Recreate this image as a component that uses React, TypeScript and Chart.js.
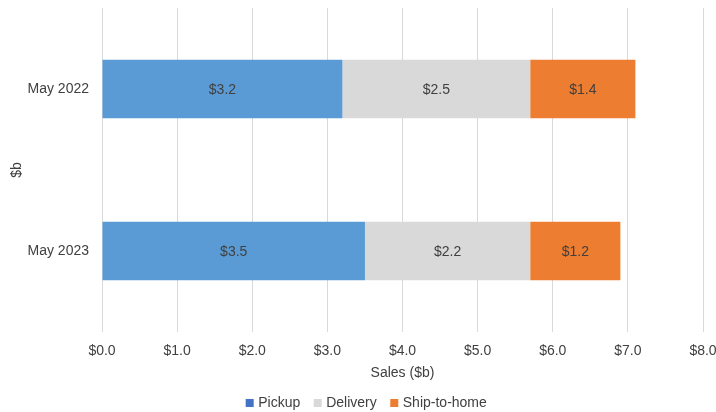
import React, { useEffect, useRef } from "react";
import { Chart, registerables } from "chart.js";

Chart.register(...registerables);

const categories = ["May 2022", "May 2023"];
const pickup = [3.2, 3.5];
const delivery = [2.5, 2.2];
const shipToHome = [1.4, 1.2];
const xTicks = [0, 1, 2, 3, 4, 5, 6, 7, 8];

const FONT = "'Liberation Sans', Arial, Helvetica, sans-serif";
const TEXT = "#404040";
const SIZE = 14;

const barLabels = {
  id: "barLabels",
  afterDatasetsDraw(chart: any) {
    const ctx = chart.ctx;
    ctx.save();
    ctx.font = `${SIZE}px ${FONT}`;
    ctx.fillStyle = TEXT;
    ctx.textAlign = "center";
    ctx.textBaseline = "middle";
    chart.data.datasets.forEach((ds: any, i: number) => {
      const meta = chart.getDatasetMeta(i);
      meta.data.forEach((el: any, j: number) => {
        const p = el.getCenterPoint();
        ctx.fillText("$" + Number(ds.data[j]).toFixed(1), p.x, p.y + 1);
      });
    });
    ctx.restore();
  },
};

const legendShift = {
  id: "legendShift",
  afterLayout(chart: any) {
    if (chart.legend) {
      chart.legend.left += 16;
      chart.legend.right += 16;
    }
  },
};

export default function App() {
  const ref = useRef<HTMLCanvasElement>(null);
  useEffect(() => {
    if (!ref.current) return;
    const legendColors = ["#4472C4", "#D9D9D9", "#ED7D31"];
    const chart = new Chart(ref.current, {
      type: "bar",
      data: {
        labels: categories,
        datasets: [
          { label: "Pickup", data: pickup, backgroundColor: "#5B9BD5" },
          { label: "Delivery", data: delivery, backgroundColor: "#D9D9D9" },
          { label: "Ship-to-home", data: shipToHome, backgroundColor: "#ED7D31" },
        ],
      },
      options: {
        indexAxis: "y",
        responsive: false,
        animation: false,
        layout: { padding: { top: 8, left: 0, right: 17, bottom: 0 } },
        datasets: { bar: { barPercentage: 0.45, categoryPercentage: 0.8 } },
        scales: {
          x: {
            stacked: true,
            min: 0,
            max: 8,
            afterBuildTicks: (s: any) => {
              s.ticks = xTicks.map((v) => ({ value: v }));
            },
            afterFit: (s: any) => {
              s.height = 48;
              s.paddingLeft = 0;
              s.paddingRight = 0;
            },
            grid: { color: "#D9D9D9", drawTicks: false },
            border: { display: false },
            ticks: {
              padding: 11,
              color: TEXT,
              font: { family: FONT, size: SIZE },
              callback: (v: any) => "$" + Number(v).toFixed(1),
            },
            title: {
              display: true,
              text: "Sales ($b)",
              color: TEXT,
              padding: { top: 4, bottom: -2 },
              font: { family: FONT, size: SIZE },
            },
          },
          y: {
            stacked: true,
            afterFit: (s: any) => {
              s.width = 102;
              s.paddingTop = 0;
              s.paddingBottom = 0;
            },
            grid: { display: false, drawTicks: false },
            border: { display: false },
            ticks: {
              padding: 13,
              color: TEXT,
              font: { family: FONT, size: SIZE },
            },
            title: {
              display: true,
              text: "$b",
              color: TEXT,
              padding: { top: 9, bottom: 4 },
              font: { family: FONT, size: SIZE },
            },
          },
        },
        plugins: {
          tooltip: { enabled: false },
          legend: {
            position: "bottom",
            labels: {
              usePointStyle: true,
              pointStyle: "rect",
              boxWidth: 3,
              boxHeight: 8,
              padding: 16,
              color: TEXT,
              font: { family: FONT, size: SIZE },
              generateLabels: (c: any) =>
                c.data.datasets.map((d: any, i: number) => ({
                  text: d.label,
                  fillStyle: legendColors[i],
                  strokeStyle: legendColors[i],
                  lineWidth: 0,
                  pointStyle: "rect",
                  datasetIndex: i,
                  fontColor: TEXT,
                })),
            },
          },
        },
      },
      plugins: [barLabels, legendShift],
    });
    return () => chart.destroy();
  }, []);
  return (
    <div
      style={{
        position: "fixed",
        left: 0,
        top: 0,
        width: 716,
        height: 412,
        overflow: "hidden",
        background: "#fff",
      }}
    >
      <canvas ref={ref} width={720} height={420} style={{ width: 720, height: 420, display: "block" }} />
    </div>
  );
}
